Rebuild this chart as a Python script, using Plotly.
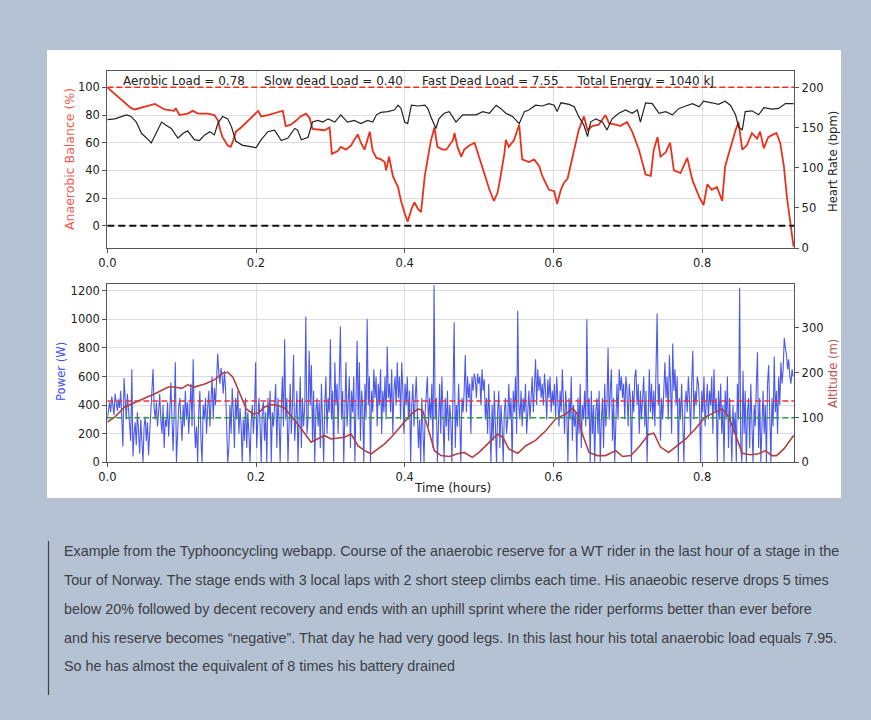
import plotly.graph_objects as go

W, H = 871, 720

# ---------------- data ----------------
balance_t = [0.000, 0.032, 0.037, 0.055, 0.064, 0.077, 0.090, 0.092, 0.097, 0.108,
             0.115, 0.122, 0.135, 0.144, 0.149, 0.152, 0.155, 0.162, 0.166, 0.169,
             0.173, 0.180, 0.189, 0.198, 0.203, 0.207, 0.216, 0.229, 0.236, 0.240,
             0.247, 0.254, 0.260, 0.267, 0.272, 0.276, 0.292, 0.299, 0.302, 0.310,
             0.314, 0.321, 0.328, 0.332, 0.337, 0.341, 0.346, 0.353, 0.357, 0.362,
             0.368, 0.373, 0.375, 0.379, 0.384, 0.391, 0.395, 0.400, 0.404, 0.409,
             0.413, 0.418, 0.422, 0.427, 0.431, 0.435, 0.440, 0.444, 0.451, 0.456,
             0.465, 0.467, 0.471, 0.476, 0.480, 0.487, 0.494, 0.500, 0.507, 0.514,
             0.520, 0.525, 0.529, 0.534, 0.536, 0.540, 0.547, 0.554, 0.558, 0.567,
             0.574, 0.581, 0.585, 0.594, 0.601, 0.605, 0.610, 0.614, 0.619, 0.623,
             0.628, 0.634, 0.641, 0.646, 0.652, 0.661, 0.670, 0.675, 0.684, 0.690,
             0.699, 0.706, 0.715, 0.724, 0.731, 0.735, 0.740, 0.744, 0.751, 0.757,
             0.762, 0.771, 0.780, 0.787, 0.796, 0.802, 0.807, 0.813, 0.820, 0.827,
             0.831, 0.838, 0.845, 0.849, 0.854, 0.860, 0.867, 0.874, 0.878, 0.883,
             0.889, 0.896, 0.900, 0.905, 0.910, 0.914, 0.919, 0.923]
balance = [100, 85, 84, 87, 88, 84, 83, 85, 80, 81,
           83, 81, 81, 80, 76, 69, 64, 58, 57, 61,
           68, 71, 76, 81, 83, 79, 80, 82, 83, 72,
           73, 76, 79, 81, 78, 70, 69, 71, 52, 54,
           57, 55, 58, 62, 66, 60, 55, 68, 54, 49,
           48, 46, 40, 50, 36, 28, 18, 9, 3, 12,
           17, 12, 10, 36, 48, 61, 71, 57, 55, 55,
           62, 67, 57, 50, 55, 58, 60, 50, 38, 26,
           18, 24, 36, 52, 62, 57, 62, 73, 48, 46,
           48, 43, 36, 26, 25, 16, 26, 31, 34, 43,
           55, 69, 79, 69, 72, 73, 80, 74, 73, 72,
           75, 68, 55, 37, 36, 55, 64, 50, 53, 60,
           40, 38, 49, 33, 21, 15, 30, 26, 28, 18,
           43, 57, 69, 75, 55, 58, 67, 63, 68, 56,
           64, 66, 67, 60, 43, 21, 0, -15]

hr_t = [0.000, 0.010, 0.026, 0.032, 0.039, 0.046, 0.055, 0.059, 0.064, 0.073,
        0.079, 0.086, 0.095, 0.102, 0.108, 0.117, 0.124, 0.131, 0.138, 0.144,
        0.149, 0.155, 0.162, 0.167, 0.173, 0.182, 0.189, 0.200, 0.207, 0.216,
        0.225, 0.229, 0.234, 0.243, 0.252, 0.256, 0.261, 0.270, 0.276, 0.283,
        0.290, 0.297, 0.306, 0.314, 0.323, 0.332, 0.341, 0.350, 0.357, 0.362,
        0.368, 0.377, 0.386, 0.391, 0.395, 0.400, 0.404, 0.409, 0.418, 0.427,
        0.431, 0.435, 0.442, 0.446, 0.453, 0.460, 0.469, 0.478, 0.487, 0.496,
        0.505, 0.514, 0.523, 0.529, 0.536, 0.545, 0.554, 0.561, 0.567, 0.576,
        0.585, 0.594, 0.601, 0.605, 0.610, 0.621, 0.628, 0.634, 0.641, 0.646,
        0.650, 0.657, 0.666, 0.672, 0.679, 0.688, 0.697, 0.706, 0.713, 0.717,
        0.724, 0.733, 0.742, 0.751, 0.760, 0.769, 0.778, 0.787, 0.796, 0.802,
        0.813, 0.822, 0.831, 0.838, 0.845, 0.849, 0.854, 0.858, 0.867, 0.876,
        0.883, 0.894, 0.903, 0.912, 0.923]
heart_rate = [160, 161, 166, 164, 157, 143, 135, 131, 140, 157,
              153, 149, 137, 143, 146, 135, 134, 141, 145, 141,
              156, 164, 161, 151, 133, 128, 127, 125, 135, 145,
              147, 141, 134, 137, 149, 147, 135, 138, 157, 159,
              157, 161, 157, 166, 157, 159, 155, 159, 157, 166,
              169, 170, 172, 178, 174, 157, 155, 178, 177, 178,
              174, 164, 149, 161, 168, 170, 157, 166, 166, 166,
              170, 168, 178, 174, 168, 164, 155, 170, 172, 178,
              177, 180, 178, 170, 181, 179, 176, 164, 153, 139,
              157, 161, 157, 147, 161, 168, 172, 168, 172, 157,
              181, 180, 168, 170, 166, 174, 177, 180, 176, 183,
              181, 179, 183, 178, 166, 151, 147, 170, 171, 166,
              175, 173, 174, 180, 180]

alt_t = [0.000, 0.010, 0.023, 0.037, 0.050, 0.064, 0.082, 0.090, 0.100, 0.108,
         0.117, 0.131, 0.144, 0.155, 0.162, 0.169, 0.178, 0.187, 0.196, 0.203,
         0.211, 0.220, 0.229, 0.238, 0.247, 0.261, 0.274, 0.283, 0.292, 0.301,
         0.310, 0.319, 0.328, 0.337, 0.346, 0.355, 0.364, 0.373, 0.382, 0.395,
         0.409, 0.418, 0.424, 0.431, 0.440, 0.449, 0.460, 0.471, 0.480, 0.491,
         0.500, 0.514, 0.525, 0.532, 0.540, 0.552, 0.563, 0.576, 0.590, 0.603,
         0.617, 0.626, 0.632, 0.639, 0.648, 0.659, 0.670, 0.684, 0.693, 0.704,
         0.715, 0.728, 0.735, 0.744, 0.755, 0.764, 0.778, 0.791, 0.804, 0.818,
         0.827, 0.836, 0.847, 0.854, 0.865, 0.876, 0.885, 0.894, 0.900, 0.910,
         0.923]
altitude = [90, 101, 123, 134, 143, 153, 168, 168, 165, 173,
            168, 175, 184, 199, 201, 190, 153, 119, 108, 110,
            123, 129, 127, 122, 104, 75, 45, 52, 60, 52,
            54, 56, 63, 37, 26, 19, 30, 41, 56, 82,
            108, 119, 116, 78, 26, 15, 13, 19, 22, 11,
            22, 45, 63, 56, 30, 20, 37, 49, 71, 97,
            108, 121, 108, 63, 22, 15, 15, 26, 13, 15,
            34, 62, 65, 34, 22, 34, 52, 75, 101, 112,
            119, 101, 49, 20, 17, 19, 26, 15, 15, 30,
            60]

# power samples every 0.0015 h starting at t = 0 (one row = 0.015 h)
power_step = 0.0015
power = [300, 380, 420, 350, 460, 400, 330, 480, 420, 360,
         440, 380, 500, 350, 110, 590, 420, 300, 480, 380,
         250, 150, 650, 40, 200, 280, 120, 350, 220, 60,
         300, 180, 0, 250, 320, 150, 280, 50, 200, 350,
         420, 650, 380, 300, 420, 250, 350, 480, 300, 200,
         400, 100, 300, 250, 420, 180, 350, 560, 300, 80,
         350, 700, 0, 200, 380, 450, 300, 150, 400, 250,
         500, 300, 420, 200, 380, 550, 250, 720, 300, 100,
         250, 0, 350, 500, 150, 0, 400, 300, 450, 200,
         380, 500, 250, 450, 600, 300, 520, 400, 650, 760,
         620, 550, 660, 600, 480, 640, 520, 300, 0, 100,
         400, 200, 520, 350, 100, 450, 300, 500, 200, 380,
         250, 0, 300, 150, 450, 100, 350, 200, 0, 280,
         400, 200, 350, 700, 100, 300, 450, 250, 0, 380,
         420, 150, 350, 0, 450, 300, 500, 0, 350, 250,
         400, 550, 100, 450, 300, 0, 380, 600, 250, 860,
         300, 450, 0, 350, 550, 200, 400, 750, 150, 300,
         500, 0, 350, 600, 100, 450, 250, 380, 1020, 200,
         300, 780, 400, 680, 150, 500, 0, 350, 450, 250,
         420, 100, 550, 300, 0, 400, 600, 200, 450, 350,
         860, 300, 500, 0, 700, 400, 550, 200, 650, 950,
         300, 500, 0, 400, 700, 250, 450, 600, 100, 500,
         350, 600, 0, 450, 850, 300, 700, 150, 500, 400,
         0, 550, 300, 1000, 400, 600, 0, 500, 350, 650,
         450, 600, 250, 550, 400, 650, 200, 500, 350, 600,
         300, 810, 450, 550, 350, 650, 200, 500, 600, 400,
         700, 450, 600, 300, 700, 500, 200, 550, 400, 600,
         300, 500, 0, 400, 550, 250, 450, 600, 350, 100,
         300, 0, 450, 200, 0, 350, 500, 600, 250, 450,
         300, 550, 100, 1240, 300, 450, 0, 400, 550, 200,
         600, 350, 0, 450, 250, 500, 150, 400, 300, 0,
         450, 980, 100, 400, 250, 550, 300, 0, 450, 350,
         500, 750, 350, 600, 450, 550, 200, 600, 500, 620,
         580, 450, 620, 550, 600, 400, 650, 500, 580, 300,
         450, 200, 550, 300, 0, 400, 150, 500, 250, 0,
         350, 500, 100, 400, 250, 0, 350, 450, 200, 300,
         550, 300, 450, 0, 500, 350, 600, 200, 1060, 400,
         300, 500, 250, 450, 350, 550, 200, 400, 500, 300,
         450, 600, 350, 550, 720, 400, 650, 500, 600, 450,
         550, 400, 620, 500, 300, 580, 450, 600, 350, 500,
         400, 550, 300, 600, 450, 250, 500, 350, 650, 400,
         200, 500, 350, 0, 450, 300, 600, 150, 400, 250,
         350, 0, 450, 200, 550, 100, 400, 300, 500, 250,
         1000, 300, 450, 0, 500, 200, 400, 0, 350, 450,
         200, 500, 0, 300, 450, 100, 550, 250, 400, 800,
         300, 500, 650, 150, 450, 0, 400, 550, 300, 650,
         500, 600, 450, 550, 300, 600, 500, 250, 550, 450,
         0, 500, 350, 600, 650, 400, 550, 200, 500, 300,
         450, 600, 250, 500, 0, 400, 650, 350, 550, 300,
         500, 250, 600, 1040, 400, 550, 150, 450, 300, 600,
         700, 450, 600, 300, 750, 550, 200, 830, 500, 650,
         400, 600, 0, 450, 300, 550, 250, 0, 400, 500,
         350, 600, 450, 200, 550, 780, 300, 500, 400, 600,
         550, 400, 0, 500, 350, 600, 250, 450, 550, 300,
         500, 400, 600, 200, 650, 350, 450, 0, 500, 300,
         550, 200, 400, 0, 500, 300, 600, 100, 450, 250,
         0, 400, 200, 350, 0, 550, 300, 1220, 100, 0,
         640, 200, 500, 0, 350, 450, 100, 550, 300, 0,
         400, 250, 550, 770, 100, 450, 0, 350, 500, 200,
         400, 0, 550, 680, 300, 0, 450, 250, 740, 350,
         500, 200, 600, 400, 700, 550, 650, 870, 800, 750,
         650, 720, 600, 550, 650, 600]
power_t = [i * power_step for i in range(len(power))]

balance_ref_top = 100
balance_ref_zero = 0
power_ref_red = 428
power_ref_green = 312

GAP = "\u00a0" * 5
summary_text = ("Aerobic Load = 0.78" + GAP + "Slow dead Load = 0.40" + GAP +
                "Fast Dead Load = 7.55" + GAP + "Total Energy = 1040 kJ")
caption_lines = [
    "Example from the Typhooncycling webapp. Course of the anaerobic reserve for a WT rider in the last hour of a stage in the",
    "Tour of Norway. The stage ends with 3 local laps with 2 short steep climbs each time. His anaeobic reserve drops 5 times",
    "below 20% followed by decent recovery and ends with an uphill sprint where the rider performs better than ever before",
    "and his reserve becomes \u201cnegative\u201d. That day he had very good legs. In this last hour his total anaerobic load equals 7.95.",
    "So he has almost the equivalent of 8 times his battery drained",
]

# ---------------- layout helpers ----------------
def px(x):
    return x / W

def py(y):
    return 1 - y / H

X0, X1 = 107.3, 794.3
TOP = (70.7, 248.0)
BOT = (284.0, 462.3)
XMAX = 0.924

FONT = "DejaVu Sans"
RED = "#e8321e"
BLUE = "rgba(0,20,225,0.7)"
BROWN = "#b0413e"
AXC = "#555555"
GRID = "#dedede"
TICKFONT = dict(family=FONT, size=11.5, color="#222")

fig = go.Figure()

fig.add_trace(go.Scatter(x=balance_t, y=balance, mode="lines",
                         line=dict(color=RED, width=1.8), xaxis="x", yaxis="y",
                         showlegend=False))
fig.add_trace(go.Scatter(x=hr_t, y=heart_rate, mode="lines",
                         line=dict(color="#222222", width=1.2), xaxis="x", yaxis="y2",
                         showlegend=False))
fig.add_trace(go.Scatter(x=power_t, y=power, mode="lines",
                         line=dict(color=BLUE, width=1.1), xaxis="x2", yaxis="y3",
                         showlegend=False))
fig.add_trace(go.Scatter(x=alt_t, y=altitude, mode="lines",
                         line=dict(color=BROWN, width=1.6), xaxis="x2", yaxis="y4",
                         showlegend=False))

axis_common = dict(showline=True, linecolor=AXC, linewidth=1.3, mirror=True,
                   ticks="outside", ticklen=4, tickcolor=AXC, tickfont=TICKFONT,
                   zeroline=False, automargin=False)
right_common = dict(showgrid=False, showline=False, ticks="outside", ticklen=4,
                    tickcolor=AXC, tickfont=TICKFONT, zeroline=False, automargin=False)

xticks = [0.0, 0.2, 0.4, 0.6, 0.8]
xtext = ["0.0", "0.2", "0.4", "0.6", "0.8"]

fig.update_layout(
    width=W, height=H, autosize=False,
    margin=dict(l=0, r=0, t=0, b=0, pad=0, autoexpand=False),
    paper_bgcolor="#b4c2d3",
    plot_bgcolor="white",
    xaxis=dict(domain=[px(X0), px(X1)], range=[0, XMAX], anchor="y",
               tickvals=xticks, ticktext=xtext, showgrid=True, gridcolor=GRID,
               **axis_common),
    yaxis=dict(domain=[py(TOP[1]), py(TOP[0])], range=[-16, 112], anchor="x",
               tickvals=[0, 20, 40, 60, 80, 100], showgrid=True, gridcolor=GRID,
               **axis_common),
    yaxis2=dict(overlaying="y", side="right", anchor="x", range=[0, 221],
                tickvals=[0, 50, 100, 150, 200], **right_common),
    xaxis2=dict(domain=[px(X0), px(X1)], range=[0, XMAX], anchor="y3",
                tickvals=xticks, ticktext=xtext, showgrid=True, gridcolor=GRID,
                **axis_common),
    yaxis3=dict(domain=[py(BOT[1]), py(BOT[0])], range=[0, 1247], anchor="x2",
                tickvals=[0, 200, 400, 600, 800, 1000, 1200], showgrid=True,
                gridcolor=GRID, **axis_common),
    yaxis4=dict(overlaying="y3", side="right", anchor="x2", range=[0, 398],
                tickvals=[0, 100, 200, 300], **right_common),
)

shapes = [
    dict(type="rect", xref="paper", yref="paper", x0=px(47), x1=px(841),
         y0=py(498), y1=py(50), fillcolor="white", line=dict(width=0), layer="below"),
    dict(type="line", xref="paper", yref="paper", x0=px(48.5), x1=px(48.5),
         y0=py(541), y1=py(695), line=dict(color="#3c4048", width=1.2)),
    dict(type="line", xref="x", yref="y", x0=0, x1=XMAX, y0=balance_ref_top,
         y1=balance_ref_top, line=dict(color=RED, width=1.5, dash="6px,3px"), layer="above"),
    dict(type="line", xref="x", yref="y", x0=0, x1=XMAX, y0=balance_ref_zero,
         y1=balance_ref_zero, line=dict(color="#111", width=2, dash="7px,4px"), layer="above"),
    dict(type="line", xref="x2", yref="y3", x0=0, x1=XMAX, y0=power_ref_red,
         y1=power_ref_red, line=dict(color="#ee3333", width=1.5, dash="6px,3px"), layer="above"),
    dict(type="line", xref="x2", yref="y3", x0=0, x1=XMAX, y0=power_ref_green,
         y1=power_ref_green, line=dict(color="#2e9a3a", width=1.5, dash="6px,3px"), layer="above"),
]
fig.update_layout(shapes=shapes)

ann = []
ann.append(dict(text=summary_text, xref="paper", yref="paper", x=px(121), y=py(81),
                xanchor="left", yanchor="middle", showarrow=False,
                font=dict(family=FONT, size=12, color="#222")))
ann.append(dict(text="Anaerobic Balance (%)", xref="paper", yref="paper", x=px(69),
                y=py(159), textangle=-90, showarrow=False, xanchor="center", yanchor="middle",
                font=dict(family=FONT, size=12.5, color="#ef5a4c")))
ann.append(dict(text="Heart Rate (bpm)", xref="paper", yref="paper", x=px(833),
                y=py(162), textangle=-90, showarrow=False, xanchor="center", yanchor="middle",
                font=dict(family=FONT, size=11.6, color="#222")))
ann.append(dict(text="Power (W)", xref="paper", yref="paper", x=px(61),
                y=py(372), textangle=-90, showarrow=False, xanchor="center", yanchor="middle",
                font=dict(family=FONT, size=11.6, color="#3a4cf0")))
ann.append(dict(text="Altitude (m)", xref="paper", yref="paper", x=px(833),
                y=py(374), textangle=-90, showarrow=False, xanchor="center", yanchor="middle",
                font=dict(family=FONT, size=11.6, color="#c0504d")))
ann.append(dict(text="Time (hours)", xref="paper", yref="paper", x=px(452),
                y=py(488), showarrow=False, xanchor="center", yanchor="middle",
                font=dict(family=FONT, size=12, color="#222")))

cap_y = [551, 580, 609, 638, 666]
for line, yy in zip(caption_lines, cap_y):
    ann.append(dict(text=line, xref="paper", yref="paper", x=px(62), y=py(yy),
                    xanchor="left", yanchor="middle", showarrow=False,
                    font=dict(family="Liberation Sans, sans-serif",
                              size=14.3, color="#3a3e45")))
fig.update_layout(annotations=ann)

fig.write_html("out.html",
               config={"displayModeBar": False, "responsive": False},
               post_script="document.body.style.margin='0px';"
                           "document.documentElement.style.overflow='hidden';")
